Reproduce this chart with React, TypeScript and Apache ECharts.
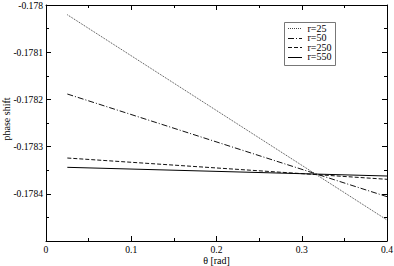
import React, { useEffect, useRef } from "react";
import * as echarts from "echarts";

const thetaValues = [0.025, 0.4];
const seriesNames = ["r=25", "r=50", "r=250", "r=550"];
const r25 = [-0.1780206, -0.1784555];
const r50 = [-0.1781886, -0.1784061];
const r250 = [-0.1783242, -0.1783693];
const r550 = [-0.1783439, -0.1783623];
const xTickLabels = ["0", "0.1", "0.2", "0.3", "0.4"];
const yTickLabels = ["-0.178", "-0.1781", "-0.1782", "-0.1783", "-0.1784"];
const xName = "θ [rad]";
const yName = "phase shift";

const FONT = "Liberation Serif";

export default function App() {
  const ref = useRef<HTMLDivElement>(null);
  useEffect(() => {
    if (!ref.current) return;
    const chart = echarts.init(ref.current, null, { renderer: "svg" });
    const allSeries = [r25, r50, r250, r550];
    const dashes: any[] = [[1, 1], [6, 2, 1, 2], [4, 2], null];
    const colors = ["#444", "#111", "#111", "#000"];
    const axisCommon = {
      axisLine: { show: true, onZero: false, lineStyle: { color: "#000", width: 1 } },
      axisTick: { show: true, inside: true, length: 5, lineStyle: { color: "#000" } },
      minorTick: { show: true, splitNumber: 2, length: 3, lineStyle: { color: "#000" } },
      splitLine: { show: false },
      axisLabel: { show: false },
    };
    const legendX = 284;
    const legendY = 22;
    const rowH = 9.6;
    const legendChildren: any[] = [
      {
        type: "rect",
        shape: { x: legendX + 0.5, y: legendY + 0.5, width: 51, height: 43 },
        style: { fill: "#fff", stroke: "#777", lineWidth: 1 },
      },
    ];
    seriesNames.forEach((name, i) => {
      const cy = legendY + 5.5 + i * rowH + 0.5;
      legendChildren.push({
        type: "line",
        shape: { x1: legendX + 4, y1: Math.round(cy) + 0.5, x2: legendX + 18, y2: Math.round(cy) + 0.5 },
        style: { stroke: colors[i], lineWidth: 1, lineDash: dashes[i] || undefined },
      });
      legendChildren.push({
        type: "text",
        x: legendX + 23.5,
        y: cy,
        style: { text: name, font: `10px ${FONT}`, fill: "#000", verticalAlign: "middle" },
      });
    });
    const xMin = 0, xMax = 0.4, yMin = -0.1785, yMax = -0.178;
    chart.setOption({
      animation: false,
      backgroundColor: "#fff",
      grid: { left: 46, right: 7, top: 5, bottom: 25, containLabel: false, outerBoundsMode: "none" },
      xAxis: [
        { type: "value", min: xMin, max: xMax, interval: 0.1, position: "bottom", ...axisCommon },
        { type: "value", min: xMin, max: xMax, interval: 0.1, position: "top", ...axisCommon },
      ],
      yAxis: [
        { type: "value", min: yMin, max: yMax, interval: 0.0001, position: "left", ...axisCommon },
        { type: "value", min: yMin, max: yMax, interval: 0.0001, position: "right", ...axisCommon },
      ],
      series: allSeries.map((vals, i) => ({
        name: seriesNames[i],
        type: "line",
        xAxisIndex: 0,
        yAxisIndex: 0,
        symbol: "none",
        data: vals.map((v, j) => [thetaValues[j], v]),
        lineStyle: { color: colors[i], width: 1, type: dashes[i] || "solid" },
        itemStyle: { color: colors[i] },
      })),
    });

    const px = (v: number) => chart.convertToPixel({ xAxisIndex: 0 }, v) as number;
    const py = (v: number) => chart.convertToPixel({ yAxisIndex: 0 }, v) as number;
    const left = px(xMin);
    const right = px(xMax);
    const bottom = py(yMin);
    const top = py(yMax);
    const labelFont = `9.6px ${FONT}`;
    const labelTexts: any[] = [];
    yTickLabels.forEach((s) => {
      labelTexts.push({
        type: "text",
        x: left - 3,
        y: py(parseFloat(s)),
        style: { text: s, font: labelFont, fill: "#000", align: "right", verticalAlign: "middle" },
      });
    });
    xTickLabels.forEach((s) => {
      labelTexts.push({
        type: "text",
        x: px(parseFloat(s)),
        y: bottom + 3,
        style: { text: s, font: labelFont, fill: "#000", align: "center", verticalAlign: "top" },
      });
    });
    labelTexts.push({
      type: "text",
      x: (left + right) / 2,
      y: bottom + 19,
      style: { text: xName, font: `10px ${FONT}`, fill: "#000", align: "center", verticalAlign: "middle" },
    });
    labelTexts.push({
      type: "text",
      x: left - 40,
      y: (top + bottom) / 2 - 4,
      rotation: Math.PI / 2,
      style: { text: yName, font: `10px ${FONT}`, fill: "#000", align: "center", verticalAlign: "middle" },
    });

    chart.setOption({
      graphic: [
        { type: "group", children: labelTexts },
        { type: "group", children: legendChildren },
      ],
    });
    return () => chart.dispose();
  }, []);
  return (
    <div
      ref={ref}
      style={{ position: "fixed", left: 0, top: 0, width: 394, height: 266, background: "#fff" }}
    />
  );
}
